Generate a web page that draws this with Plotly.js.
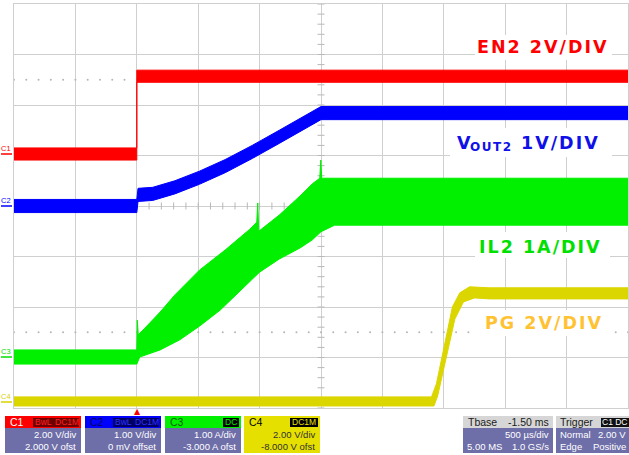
<!DOCTYPE html>
<html><head><meta charset="utf-8">
<script src="https://cdn.plot.ly/plotly-3.0.1.min.js"></script>
<style>html,body{margin:0;padding:0;background:#fff;overflow:hidden}#chart{width:629px;height:455px;}</style>
</head><body><div id="chart"></div>
<script>
// Time in ms (trigger at 0, 0.5 ms/div); amplitude in screen divisions (centre = 0)
const en2T  = [-1.0, 0.0, 0.0, 4.0];
const en2Hi = [1.15, 1.15, 2.69, 2.69];
const en2Lo = [0.91, 0.91, 2.45, 2.45];

const voutT  = [-1.0, 0.0, 0.01, 0.13, 0.31, 0.51, 0.72, 0.94, 1.16, 1.33, 1.50, 4.0];
const voutHi = [0.13, 0.13, 0.35, 0.37, 0.50, 0.69, 0.92, 1.20, 1.50, 1.73, 1.97, 1.97];
const voutLo = [-0.13, -0.13, 0.09, 0.11, 0.24, 0.43, 0.66, 0.94, 1.24, 1.47, 1.71, 1.71];

const ilHiT = [-1.0, 0.0, 0.004, 0.012, 0.065, 0.19, 0.31, 0.51, 0.72, 0.92, 0.977, 0.985, 0.993, 1.16, 1.33, 1.43, 1.49, 1.498, 1.506, 4.0];
const ilHi  = [-2.85, -2.85, -2.26, -2.55, -2.42, -2.10, -1.76, -1.27, -0.87, -0.46, -0.32, 0.06, -0.50, -0.18, 0.20, 0.44, 0.55, 0.91, 0.55, 0.55];
const ilLoT = [-1.0, 0.0, 0.024, 0.19, 0.35, 0.51, 0.68, 0.84, 1.00, 1.16, 1.33, 1.43, 1.50, 1.61, 4.0];
const ilLo  = [-3.13, -3.13, -2.99, -2.85, -2.65, -2.38, -2.06, -1.68, -1.31, -1.05, -0.83, -0.67, -0.51, -0.38, -0.38];

const pgHiT = [-1.0, 2.40, 2.44, 2.47, 2.51, 2.57, 2.63, 2.71, 2.87, 4.0];
const pgHi  = [-3.78, -3.78, -3.52, -3.17, -2.73, -2.00, -1.72, -1.60, -1.62, -1.62];
const pgLoT = [-1.0, 2.42, 2.45, 2.48, 2.52, 2.59, 2.66, 2.75, 2.87, 4.0];
const pgLo  = [-3.96, -3.96, -3.76, -3.41, -2.97, -2.24, -1.90, -1.82, -1.84, -1.84];

const labels = ['<b>EN2 2V/DIV</b>', '<b>1V/DIV</b>', '<b>IL2 1A/DIV</b>', '<b>PG 2V/DIV</b>'];
const voutMain = '<b>V</b>', voutSub = '<b>OUT2</b>';
const chanTags = ['C1', 'C2', 'C3', 'C4'];
const chanScale = ['2.00 V/div', '1.00 V/div', '1.00 A/div', '2.00 V/div'];
const chanOffset = ['2.000 V ofst', '0 mV offset', '-3.000 A ofst', '-8.000 V ofst'];

// ---------- helpers ----------
const W = 629, H = 455, ML = 14, MR = 1, MT = 4, MB = 47;
const PW = W - ML - MR, PH = H - MT - MB;
const PX = x => (x - ML) / PW;
const PY = y => (H - MB - y) / PH;

function band(tH, hi, tL, lo, color, name) {
  return {
    type: 'scatter', mode: 'lines', name: name,
    x: tH.concat(tL.slice().reverse()),
    y: hi.concat(lo.slice().reverse()),
    fill: 'toself', fillcolor: color,
    line: {color: color, width: 1},
    hoverinfo: 'skip', showlegend: false
  };
}

// graticule decorations
const vtY = [], vtX = [];
for (let k = -20; k <= 20; k++) { vtY.push(k * 0.2); vtX.push(1.5); }
const htX = [], htY = [];
for (let k = 0; k <= 50; k++) { htX.push(-1 + k * 0.1); htY.push(0); }
const dotX = [], dotY = [];
for (let k = 0; k <= 50; k++) { dotX.push(-1 + k * 0.1); dotY.push(2.5); dotX.push(-1 + k * 0.1); dotY.push(-2.5); }

const gridCol = '#cfcfcf';
const data = [
  {type:'scatter', mode:'markers', x: dotX, y: dotY, marker:{size:2, color:'#b5b5b5'}, hoverinfo:'skip', showlegend:false},
  {type:'scatter', mode:'markers', x: vtX, y: vtY, marker:{symbol:'line-ew', size:5, line:{width:1, color:'#b8b8b8'}}, hoverinfo:'skip', showlegend:false},
  {type:'scatter', mode:'markers', x: htX, y: htY, marker:{symbol:'line-ns', size:5, line:{width:1, color:'#b8b8b8'}}, hoverinfo:'skip', showlegend:false},
  band(pgHiT, pgHi, pgLoT, pgLo, '#dcd600', 'PG'),
  band(ilHiT, ilHi, ilLoT, ilLo, '#00f000', 'IL2'),
  band(voutT, voutHi, voutT, voutLo, '#0000ff', 'VOUT2'),
  band(en2T, en2Hi, en2T, en2Lo, '#ff0000', 'EN2')
];

const shapes = [];
const annotations = [];
function rect(x0, y0, x1, y1, fill) {
  shapes.push({type:'rect', xref:'paper', yref:'paper', x0:PX(x0), x1:PX(x1), y0:PY(y1), y1:PY(y0),
    fillcolor: fill, line:{width:0}, layer:'above'});
}
function hline(x0, x1, y, color) {
  shapes.push({type:'line', xref:'paper', yref:'paper', x0:PX(x0), x1:PX(x1), y0:PY(y), y1:PY(y),
    line:{width:1.5, color: color}, layer:'above'});
}
function txt(text, x, y, opts) {
  opts = opts || {};
  annotations.push({xref:'paper', yref:'paper', x:PX(x), y:PY(y), text:text, showarrow:false,
    xanchor: opts.xa || 'center', yanchor:'middle',
    font:{family: opts.family || 'Liberation Sans Narrow, Liberation Sans, Arial', size: opts.size || 9.5, color: opts.color || '#fff'}});
}

// label white boxes
rect(475, 35, 612, 60, '#fff');
rect(450, 128, 612, 157, '#fff');
rect(475, 232, 610, 258, '#fff');
rect(475, 310, 610, 336, '#fff');
const bigFont = 'DejaVu Sans, Verdana, sans-serif';
txt(labels[0], 543, 47, {family:bigFont, size:17.5, color:'#ff0000'});
txt(voutMain, 455, 143, {xa:'left', family:bigFont, size:17.5, color:'#1010e8'});
txt(voutSub, 471, 146.5, {xa:'left', family:bigFont, size:12, color:'#1010e8'});
txt(labels[1], 525, 143, {xa:'left', family:bigFont, size:17.5, color:'#1010e8'});
txt(labels[2], 540, 247, {family:bigFont, size:17.5, color:'#00e000'});
txt(labels[3], 544, 323, {family:bigFont, size:17.5, color:'#ffc233'});

// left channel markers
const markY = [154, 206, 357, 402];
const markCol = ['#ff0000', '#0000ff', '#00e000', '#d8d200'];
for (let i = 0; i < 4; i++) {
  hline(1, 12, markY[i], markCol[i]);
  txt(chanTags[i], 6, markY[i] - 6, {size:7.5, color: markCol[i], family:'Liberation Sans, Arial'});
}

// trigger marker
txt('▲', 137, 411, {size:8, color:'#ff0000', family:'DejaVu Sans'});

// status bar channel boxes
const boxX = [5, 85, 165, 244];
const headCol = ['#ff0000', '#0000ff', '#00f000', '#e6e000'];
const bodyCol = ['#6e6ea8', '#6e6ea8', '#6e6ea8', '#e6e000'];
const tagCol = ['#ffffff', '#000060', '#006000', '#000000'];
const bodyTxt = ['#ffffff', '#ffffff', '#ffffff', '#303030'];
const chipTxt = [['BwL', 'DC1M'], ['BwL', 'DC1M'], ['DC'], ['DC1M']];
const chipBg = ['#700000', '#000060', '#000000', '#000000'];
const chipFg = ['#ff2020', '#3030ff', '#00f000', '#e6e000'];
for (let i = 0; i < 4; i++) {
  const x0 = boxX[i], x1 = x0 + 76;
  rect(x0, 416, x1, 428, headCol[i]);
  rect(x0, 428, x1, 453, bodyCol[i]);
  txt(chanTags[i], x0 + 3, 422, {xa:'left', color: tagCol[i], size:10.5});
  const chips = chipTxt[i];
  if (chips.length === 2) {
    rect(x1 - 48, 418, x1 - 2, 427, chipBg[i]);
    txt(chips[0], x1 - 38, 422.5, {color: chipFg[i], size:8.5});
    txt(chips[1], x1 - 14, 422.5, {color: chipFg[i], size:8.5});
  } else {
    const w = chips[0].length * 6 + 4;
    rect(x1 - w - 2, 418, x1 - 2, 427, chipBg[i]);
    txt(chips[0], x1 - 2 - w / 2, 422.5, {color: chipFg[i], size:8.5});
  }
  txt(chanScale[i], x1 - 3, 434, {xa:'right', color: bodyTxt[i]});
  txt(chanOffset[i], x1 - 3, 446, {xa:'right', color: bodyTxt[i]});
}

// timebase box
rect(463, 416, 553, 428, '#d6d6d6');
rect(463, 428, 553, 453, '#6e6ea8');
txt('Tbase', 466, 422, {xa:'left', color:'#202020', size:10.5});
txt('-1.50 ms', 551, 422, {xa:'right', color:'#202020', size:10.5});
txt('500 µs/div', 551, 434, {xa:'right'});
txt('5.00 MS', 465, 446, {xa:'left'});
txt('1.0 GS/s', 551, 446, {xa:'right'});

// trigger box
rect(556, 416, 629, 428, '#d6d6d6');
rect(556, 428, 629, 453, '#6e6ea8');
txt('Trigger', 558, 422, {xa:'left', color:'#202020', size:10.5});
rect(601, 418, 629, 427, '#101010');
txt('C1 DC', 615, 422.5, {color:'#ffffff', size:8.5});
txt('Normal', 558, 434, {xa:'left'});
txt('2.00 V', 628, 434, {xa:'right'});
txt('Edge', 558, 446, {xa:'left'});
txt('Positive', 628, 446, {xa:'right'});

const layout = {
  width: W, height: H, autosize: false,
  margin: {l: ML, r: MR, t: MT, b: MB, pad: 0},
  paper_bgcolor: '#ffffff', plot_bgcolor: '#ffffff',
  showlegend: false,
  xaxis: {range: [-1, 4], tick0: -1, dtick: 0.5, showticklabels: false, ticks: '', zeroline: false,
          showgrid: true, gridcolor: gridCol, gridwidth: 1, showline: true, mirror: true, linecolor: gridCol, linewidth: 1, fixedrange: true},
  yaxis: {range: [-4, 4], tick0: -4, dtick: 1, showticklabels: false, ticks: '', zeroline: false,
          showgrid: true, gridcolor: gridCol, gridwidth: 1, showline: true, mirror: true, linecolor: gridCol, linewidth: 1, fixedrange: true},
  shapes: shapes,
  annotations: annotations
};

Plotly.newPlot('chart', data, layout, {staticPlot: true, displayModeBar: false}).then(() => {
  document.querySelectorAll('text.annotation-text').forEach(el => {
    const t = el.textContent;
    if (/DIV/.test(t)) el.style.letterSpacing = '2px';
    else if (t === 'OUT2') el.style.letterSpacing = '1.5px';
  });
});
</script>
</body></html>
